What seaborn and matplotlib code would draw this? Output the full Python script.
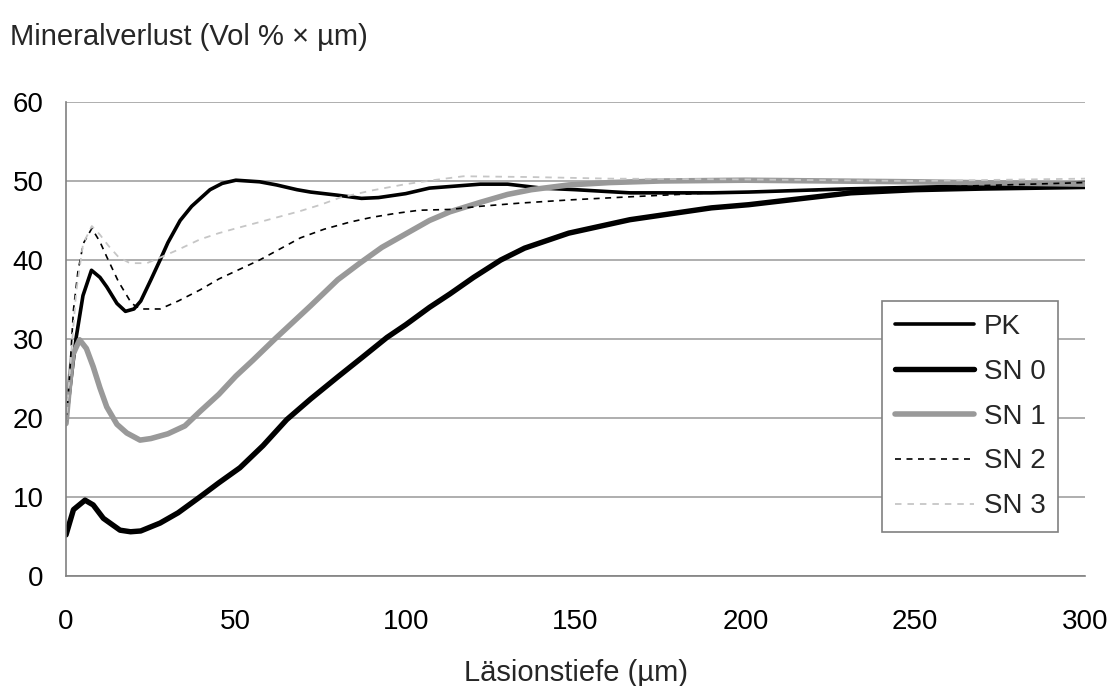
import numpy as np
import pandas as pd
import matplotlib
matplotlib.use("Agg")
import matplotlib.pyplot as plt
import seaborn as sns

# ---- data ----
pk_x = [0, 1.5, 3, 5, 7.5, 10, 12, 15, 17.5, 20, 22, 25, 27.7, 30, 33.6, 37, 42.4, 46, 50, 57, 62, 68, 72, 80, 87, 92, 100, 107, 113, 122, 130, 140, 150, 166, 190, 201, 230, 260, 300]
pk_y = [19.3, 25, 30.2, 35.5, 38.7, 37.8, 36.6, 34.5, 33.5, 33.8, 34.8, 37.5, 40, 42.2, 45, 46.8, 48.9, 49.7, 50.1, 49.9, 49.5, 48.9, 48.6, 48.2, 47.8, 47.9, 48.4, 49.1, 49.3, 49.6, 49.6, 49.1, 48.9, 48.5, 48.5, 48.6, 49.0, 49.3, 49.8]

sn0_x = [0, 2.2, 5.6, 8, 11, 15.9, 19, 22, 27.7, 33, 39.4, 45, 51.2, 58, 65, 72, 80, 87, 94.5, 100, 107, 113, 120, 128, 135, 148, 166, 190, 201, 231, 250, 270, 300]
sn0_y = [5.2, 8.4, 9.6, 9.0, 7.3, 5.8, 5.6, 5.7, 6.7, 8.0, 10, 11.8, 13.7, 16.5, 19.8, 22.4, 25.2, 27.6, 30.2, 31.8, 34, 35.7, 37.8, 40, 41.5, 43.4, 45.1, 46.6, 47, 48.5, 48.9, 49.1, 49.3]

sn1_x = [0, 1, 2, 4, 6, 8, 10, 12, 15, 17.9, 21.8, 25, 30, 35, 39.4, 45, 50, 55, 61.5, 66, 72, 80, 86.5, 93, 100, 107, 113, 122, 130, 137, 148, 160, 175, 200, 250, 300]
sn1_y = [19.3, 24, 28, 29.9, 28.8, 26.5, 23.8, 21.4, 19.2, 18.1, 17.2, 17.4, 18, 19, 20.8, 23, 25.3, 27.3, 30, 31.8, 34.2, 37.5, 39.6, 41.6, 43.3, 45.0, 46.1, 47.3, 48.3, 48.9, 49.5, 49.8, 50, 50.1, 49.9, 49.6]

sn2_x = [0, 1, 2.2, 3.5, 5.1, 7.6, 10, 12, 15.4, 19.3, 22, 27.7, 33, 39.4, 45, 50, 57, 63, 69, 76, 83.6, 90, 97, 104, 113, 122, 133.6, 148, 166, 190, 220, 260, 300]
sn2_y = [19, 25, 33.7, 38.5, 42.1, 44, 42.3, 40.4, 37.3, 34.5, 33.8, 33.8, 34.8, 36.2, 37.6, 38.6, 40, 41.4, 42.8, 43.9, 44.8, 45.4, 45.9, 46.3, 46.4, 46.8, 47.2, 47.6, 48, 48.5, 48.8, 49.3, 49.8]

sn3_x = [0, 1.5, 3, 5, 7.6, 10, 12.5, 15.4, 18.8, 23.8, 27.7, 33, 39.4, 45, 50, 57, 63, 69, 75, 80.7, 90, 100, 108, 117, 137, 160, 200, 250, 300]
sn3_y = [19, 28, 36, 42, 44.3, 43.2, 41.8, 40.4, 39.6, 39.6, 40.3, 41.3, 42.6, 43.4, 44, 44.8, 45.5, 46.2, 47, 47.9, 48.8, 49.6, 50.1, 50.6, 50.5, 50.3, 50.2, 50.0, 50.3]

series_names = ["PK", "SN 0", "SN 1", "SN 2", "SN 3"]
x_ticks = [0, 50, 100, 150, 200, 250, 300]
y_ticks = [0, 10, 20, 30, 40, 50, 60]

frames = []
for name, xs, ys in zip(series_names,
                        [pk_x, sn0_x, sn1_x, sn2_x, sn3_x],
                        [pk_y, sn0_y, sn1_y, sn2_y, sn3_y]):
    frames.append(pd.DataFrame({"x": xs, "y": ys, "serie": name}))
df = pd.concat(frames, ignore_index=True)

sns.set_style("white")
plt.rcParams["font.family"] = ["Liberation Sans", "DejaVu Sans"]

fig = plt.figure(figsize=(11.11, 6.86), dpi=100)
ax = fig.add_axes([66 / 1111, 1 - 576 / 686, (1085 - 66) / 1111, (576 - 102) / 686])

styles = {
    "PK":   dict(color="black", lw=2.6, ls="-"),
    "SN 0": dict(color="black", lw=3.9, ls="-"),
    "SN 1": dict(color="#999999", lw=4.0, ls="-"),
    "SN 2": dict(color="black", lw=1.2, ls=(0, (3.6, 3.3))),
    "SN 3": dict(color="#c6c6c6", lw=1.3, ls=(0, (3.6, 3.3))),
}
for name in series_names:
    st = styles[name]
    sns.lineplot(data=df[df.serie == name], x="x", y="y", ax=ax, color=st["color"],
                 linewidth=st["lw"], linestyle=st["ls"], label=name, sort=False,
                 estimator=None)

ax.set_xlim(0, 300)
ax.set_ylim(0, 60)
ax.set_xticks(x_ticks)
ax.set_yticks(y_ticks)
ax.yaxis.grid(True, color="#a8a8a8", lw=1.3)
ax.set_axisbelow(True)
for s in ["top", "right"]:
    ax.spines[s].set_visible(False)
for s in ["left", "bottom"]:
    ax.spines[s].set_color("#808080")
    ax.spines[s].set_linewidth(1.2)
ax.tick_params(axis="both", which="both", direction="out", length=7, width=1.2,
               color="#808080", labelsize=20, labelcolor="black")
ax.tick_params(axis="y", pad=9)
ax.tick_params(axis="x", pad=17)
ax.set_xlabel("")
ax.set_ylabel("")

leg = ax.legend(loc="upper left", bbox_to_anchor=((882 - 66) / 1019, (576 - 301) / 474),
                borderaxespad=0, frameon=True, fancybox=False, fontsize=20,
                handlelength=2.84, handletextpad=0.36, labelspacing=0.68,
                borderpad=0.46)
leg.get_frame().set_edgecolor("#808080")
leg.get_frame().set_linewidth(1.2)
leg.get_frame().set_facecolor("white")
leg.get_frame().set_alpha(1)

fig.text(10 / 1111, 1 - 45 / 686, "Mineralverlust (Vol % × µm)", ha="left", va="baseline", fontsize=21)
fig.text(576 / 1111, 1 - 681 / 686, "Läsionstiefe (µm)", ha="center", va="baseline", fontsize=21)

fig.savefig("out.png", dpi=100, facecolor="white")
